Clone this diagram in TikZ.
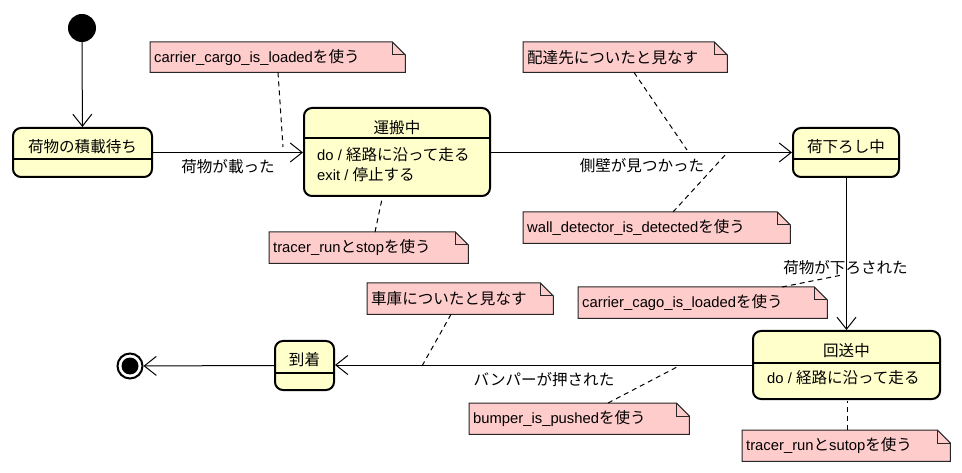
\documentclass[tikz,border=0pt]{standalone}
\usepackage{fontspec}
\setmainfont{Liberation Sans}
\newfontfamily\jp[Scale=1.05]{Noto Sans CJK JP}
\usetikzlibrary{arrows.meta,backgrounds,calc}
\definecolor{statefill}{HTML}{FFFFCC}
\definecolor{notefill}{HTML}{FFCCCC}
\newcommand\J[1]{{\jp #1}}
\newcommand\fs{\fontsize{14.8}{17}\selectfont}
\tikzset{
  statebox/.style={draw=black, line width=2pt, fill=statefill, rounded corners=8pt, inner sep=0pt},
  divline/.style={draw=black, line width=1.4pt},
  txt/.style={inner sep=0pt, font=\fs},
  notebox/.style={inner xsep=4pt, inner ysep=0pt, anchor=north west, align=left, font=\fs},
  notefr/.style={draw=black!85, fill=notefill, line width=1pt},
  trans/.style={draw=black, line width=1pt, -{Straight Barb[length=12pt,width=19pt,line width=1pt]}},
  notelink/.style={draw=black, line width=1pt, dash pattern=on 5pt off 4pt},
}
\newcommand\notenode[6]{%
  \pgfmathsetmacro\nw{#4-#2}\pgfmathsetmacro\nh{#5-#3}\pgfmathsetmacro\tw{#4-#2-8}%
  \node[notebox, minimum width=\nw pt, minimum height=\nh pt, text width=\tw pt] (#1) at (#2,#3) {#6};}
\newcommand\drawnote[1]{%
  \filldraw[notefr] (#1.north west) -- ([xshift=-13pt]#1.north east) -- ([yshift=-13pt]#1.north east) -- (#1.south east) -- (#1.south west) -- cycle;
  \draw[notefr, fill=none] ([xshift=-13pt]#1.north east) |- ([yshift=-13pt]#1.north east);}
\begin{document}
\begin{tikzpicture}[x=1pt, y=-1pt, font=\fs]
\useasboundingbox (0,0) rectangle (962,473);
\begin{scope}[on background layer]
  \fill[white] (0,0) rectangle (962,473);
\end{scope}

% initial and final states
\node[circle, fill=black, minimum size=28pt, inner sep=0pt] (init) at (82,28) {};
\node[circle, draw=black, line width=2pt, fill=white, minimum size=25pt, inner sep=0pt] (final) at (130,366) {};
\fill[black] (final.center) circle (8.5);

% state: waiting for loading
\node[statebox, minimum width=139pt, minimum height=49pt] (wait) at (82.5,152.5) {};
\draw[divline] (wait.west |- 0,159) -- (wait.east |- 0,159);
\node[txt] (waitT) at (82.5,146.5) {\J{荷物の積載待ち}};

% state: carrying
\node[statebox, minimum width=186pt, minimum height=88pt] (carry) at (397,152) {};
\draw[divline] (carry.west |- 0,138) -- (carry.east |- 0,138);
\node[txt] (carryT) at (397,127.5) {\J{運搬中}};
\node[txt, anchor=west] (carryDo) at (317,155) {do / \J{経路に沿って走る}};
\node[txt, anchor=west] (carryEx) at (317,175) {exit / \J{停止する}};

% state: unloading
\node[statebox, minimum width=106pt, minimum height=49pt] (unload) at (846,152.5) {};
\draw[divline] (unload.west |- 0,159) -- (unload.east |- 0,159);
\node[txt] (unloadT) at (846,146.5) {\J{荷下ろし中}};

% state: returning
\node[statebox, minimum width=187pt, minimum height=68pt] (ret) at (846.5,365) {};
\draw[divline] (ret.west |- 0,363) -- (ret.east |- 0,363);
\node[txt] (retT) at (846.5,351) {\J{回送中}};
\node[txt, anchor=west] (retDo) at (767,378) {do / \J{経路に沿って走る}};

% state: arrived
\node[statebox, minimum width=59pt, minimum height=49pt] (arrive) at (304.5,365.5) {};
\draw[divline] (arrive.west |- 0,373) -- (arrive.east |- 0,373);
\node[txt] (arriveT) at (304.5,359.5) {\J{到着}};

% transitions
\draw[trans] (init) -- (wait);
\draw[trans] (wait.east) -- (wait.east -| carry.west);
\draw[trans] (carry.east |- unload.west) -- (unload.west);
\draw[trans] (unload.south -| ret.north) -- (ret.north);
\draw[trans] (ret.west) -- (ret.west -| arrive.east);
\draw[trans] (arrive.west) -- (final);

% transition labels
\node[txt] (l1) at (228,167) {\J{荷物が載った}};
\node[txt] (l2) at (642,166) {\J{側壁が見つかった}};
\node[txt] (l3) at (845.5,268) {\J{荷物が下ろされた}};
\node[txt] (l4) at (544,380) {\J{バンパーが押された}};

% notes
\notenode{nCar}{150}{42}{405}{72}{carrier\_cargo\_is\_loaded\J{を使う}}
\notenode{nTr1}{269}{232}{468}{263}{tracer\_run\J{と}stop\J{を使う}}
\notenode{nDst}{523}{42}{727}{72}{\J{配達先についたと見なす}}
\notenode{nWal}{523}{212}{790}{243}{wall\_detector\_is\_detected\J{を使う}}
\notenode{nCag}{578}{287}{827}{318}{carrier\_cago\_is\_loaded\J{を使う}}
\notenode{nTr2}{742}{430}{950}{461}{tracer\_run\J{と}sutop\J{を使う}}
\notenode{nGar}{367}{283}{553}{314}{\J{車庫についたと見なす}}
\notenode{nBmp}{469}{403}{689}{434}{bumper\_is\_pushed\J{を使う}}
\begin{scope}[on background layer]
  \drawnote{nCar}\drawnote{nTr1}\drawnote{nDst}\drawnote{nWal}
  \drawnote{nCag}\drawnote{nTr2}\drawnote{nGar}\drawnote{nBmp}
\end{scope}

% note links
\coordinate (e1) at (283,147);
\coordinate (e2) at (382,199);
\coordinate (e3) at (687,150);
\coordinate (e4) at (727,153);
\coordinate (e5) at (842,275);
\coordinate (e6) at (847,401);
\coordinate (e7) at (422,366);
\coordinate (e8) at (677,367);
\draw[notelink] ($(nCar.south west)+(128,0)$) -- (e1);
\draw[notelink] ($(nTr1.north west)+(106,0)$) -- (e2);
\draw[notelink] ($(nDst.south west)+(111,0)$) -- (e3);
\draw[notelink] ($(nWal.north west)+(150,0)$) -- (e4);
\draw[notelink] ($(nCag.north west)+(204,0)$) -- (e5);
\draw[notelink] ($(nTr2.north west)+(105,0)$) -- (e6);
\draw[notelink] ($(nGar.south west)+(84,0)$) -- (e7);
\draw[notelink] ($(nBmp.north west)+(139,0)$) -- (e8);
\end{tikzpicture}
\end{document}
